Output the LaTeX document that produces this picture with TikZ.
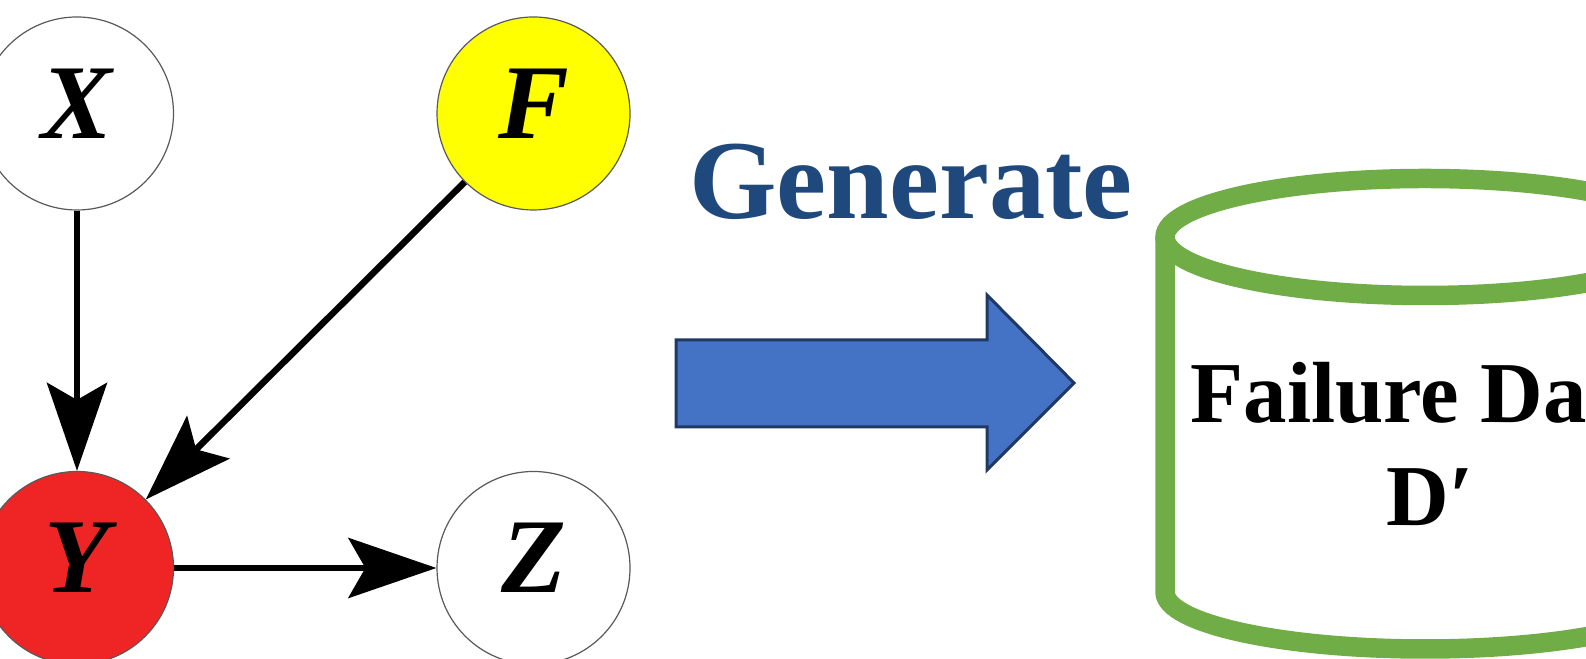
\documentclass[tikz,border=0pt]{standalone}
\usepackage{fontspec}
\setmainfont{Liberation Serif}
\usepackage{tikz}
\usetikzlibrary{arrows.meta,positioning}
\definecolor{genblue}{HTML}{1F497D}
\definecolor{arrowfill}{HTML}{4472C4}
\definecolor{arrowline}{HTML}{1F3864}
\definecolor{dbgreen}{HTML}{70AD47}
\definecolor{failred}{HTML}{EE2524}
\definecolor{causeyellow}{HTML}{FFFF00}
\tikzset{
  >={Stealth[length=8.8mm,width=6mm,inset=1.7mm]},
  % graf
  cv/.style={circle,draw=black!65,fill=white,line width=0.12mm,inner sep=0pt,
             minimum size=19.3mm,text height=7mm,text depth=2mm,
             font=\fontsize{30.2}{32}\selectfont\bfseries\itshape},
  ce/.style={->,draw=black,line width=0.65mm},
  % data
  bigarrow/.style={draw=arrowline,fill=arrowfill,line width=0.3mm,line join=miter},
  dbline/.style={draw=dbgreen,line width=1.95mm},
  gentext/.style={font=\fontsize{32}{34}\selectfont\bfseries,text=genblue,anchor=base},
  dbtext/.style={font=\fontsize{24.7}{28}\selectfont\bfseries,text=black,anchor=base},
}
\begin{document}
\begin{tikzpicture}
  \useasboundingbox (0,0) rectangle (15.86,6.59);
  \clip (0,0) rectangle (15.86,6.59);
  \node[cv] (x) at (0.77,5.455) {X};
  \node[cv,fill=causeyellow] (f) at (5.335,5.455) {F};
  \node[cv,fill=failred] (y) at (0.77,0.91) {Y};
  \node[cv] (z) at (5.335,0.91) {Z};
  \draw[ce] (x) -- (y);
  \draw[ce] (f) -- (y);
  \draw[ce] (y) -- (z);
  \node[gentext] (generate) at (9.11,4.40) {Generate};
  \draw[bigarrow] (6.76,3.19) -- (9.87,3.19) -- (9.87,3.64) -- (10.74,2.76)
    -- (9.87,1.89) -- (9.87,2.32) -- (6.76,2.32) -- cycle;
  \draw[dbline] (11.65,4.22) -- (11.65,0.67) arc[start angle=180,end angle=360,x radius=2.6,y radius=0.57]
    -- (16.85,4.22);
  \draw[dbline] (14.25,4.22) ellipse[x radius=2.6,y radius=0.585];
  \node[dbtext] (failure) at (14.25,2.36) {Failure Data};
  \node[dbtext] (dprime) at (14.30,1.33) {D′};
\end{tikzpicture}
\end{document}
